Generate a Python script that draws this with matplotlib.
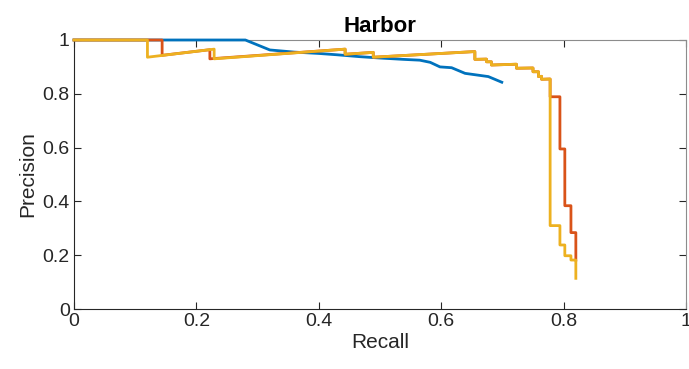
import matplotlib
matplotlib.use('Agg')
import matplotlib.pyplot as plt

plt.rcParams['font.family'] = ['Liberation Sans', 'DejaVu Sans']

# blue curve
recall_1 = [0, 0.28, 0.32, 0.36, 0.40, 0.43, 0.467, 0.50, 0.538, 0.565, 0.582, 0.598, 0.617, 0.639, 0.677, 0.699]
prec_1 = [1, 1, 0.963, 0.955, 0.95, 0.945, 0.938, 0.933, 0.928, 0.925, 0.917, 0.90, 0.897, 0.876, 0.864, 0.843]

# orange curve
recall_2 = [0, 0.144, 0.144, 0.222, 0.222, 0.443, 0.443, 0.489, 0.489, 0.655, 0.655, 0.674, 0.674,
            0.682, 0.682, 0.723, 0.723, 0.750, 0.750, 0.759, 0.759, 0.764, 0.764, 0.778, 0.778,
            0.794, 0.794, 0.802, 0.802, 0.812, 0.812, 0.820, 0.820]
prec_2 = [1, 1, 0.943, 0.964, 0.93, 0.966, 0.947, 0.954, 0.936, 0.957, 0.928, 0.929, 0.919,
          0.919, 0.907, 0.910, 0.895, 0.896, 0.882, 0.882, 0.864, 0.865, 0.854, 0.855, 0.789,
          0.789, 0.595, 0.595, 0.384, 0.384, 0.284, 0.284, 0.182]

# yellow curve
recall_3 = [0, 0.120, 0.120, 0.229, 0.229, 0.443, 0.443, 0.489, 0.489, 0.655, 0.655, 0.674, 0.674,
            0.682, 0.682, 0.723, 0.723, 0.750, 0.750, 0.759, 0.759, 0.764, 0.764, 0.778, 0.778,
            0.794, 0.794, 0.802, 0.802, 0.812, 0.812, 0.820, 0.820]
prec_3 = [1, 1, 0.936, 0.966, 0.93, 0.966, 0.947, 0.954, 0.936, 0.957, 0.928, 0.929, 0.919,
          0.919, 0.907, 0.910, 0.895, 0.896, 0.882, 0.882, 0.864, 0.865, 0.854, 0.855, 0.31,
          0.31, 0.238, 0.238, 0.198, 0.198, 0.182, 0.182, 0.114]

ticks = [0, 0.2, 0.4, 0.6, 0.8, 1]
tick_labels = ['0', '0.2', '0.4', '0.6', '0.8', '1']

fig = plt.figure(figsize=(6.89, 3.69), dpi=100)
ax = fig.add_axes([74 / 689, 1 - 309 / 369, 612 / 689, 269 / 369])

ax.plot(recall_1, prec_1, color=(0, 0.447, 0.741), lw=2, clip_on=False, zorder=5)
ax.plot(recall_2, prec_2, color=(0.850, 0.325, 0.098), lw=2, clip_on=False, zorder=5)
ax.plot(recall_3, prec_3, color=(0.929, 0.694, 0.125), lw=2, clip_on=False, zorder=5)

ax.set_xlim(0, 1)
ax.set_ylim(0, 1)
ax.set_xticks(ticks)
ax.set_xticklabels(tick_labels)
ax.set_yticks(ticks)
ax.set_yticklabels(tick_labels)
ax.tick_params(direction='in', top=True, right=True, length=5, width=0.8,
               colors=(0.15, 0.15, 0.15), labelsize=14, pad=3)
for s in ax.spines.values():
    s.set_color((0.15, 0.15, 0.15))
    s.set_linewidth(0.8)
for s in ['top', 'right']:
    ax.spines[s].set_color((0.55, 0.55, 0.55))

ax.set_xlabel('Recall', fontsize=15, color=(0.15, 0.15, 0.15), labelpad=2)
ax.set_ylabel('Precision', fontsize=15, color=(0.15, 0.15, 0.15), labelpad=4)
ax.set_title('Harbor', fontsize=16, fontweight='bold', pad=6)

fig.savefig('out.png', dpi=100)
